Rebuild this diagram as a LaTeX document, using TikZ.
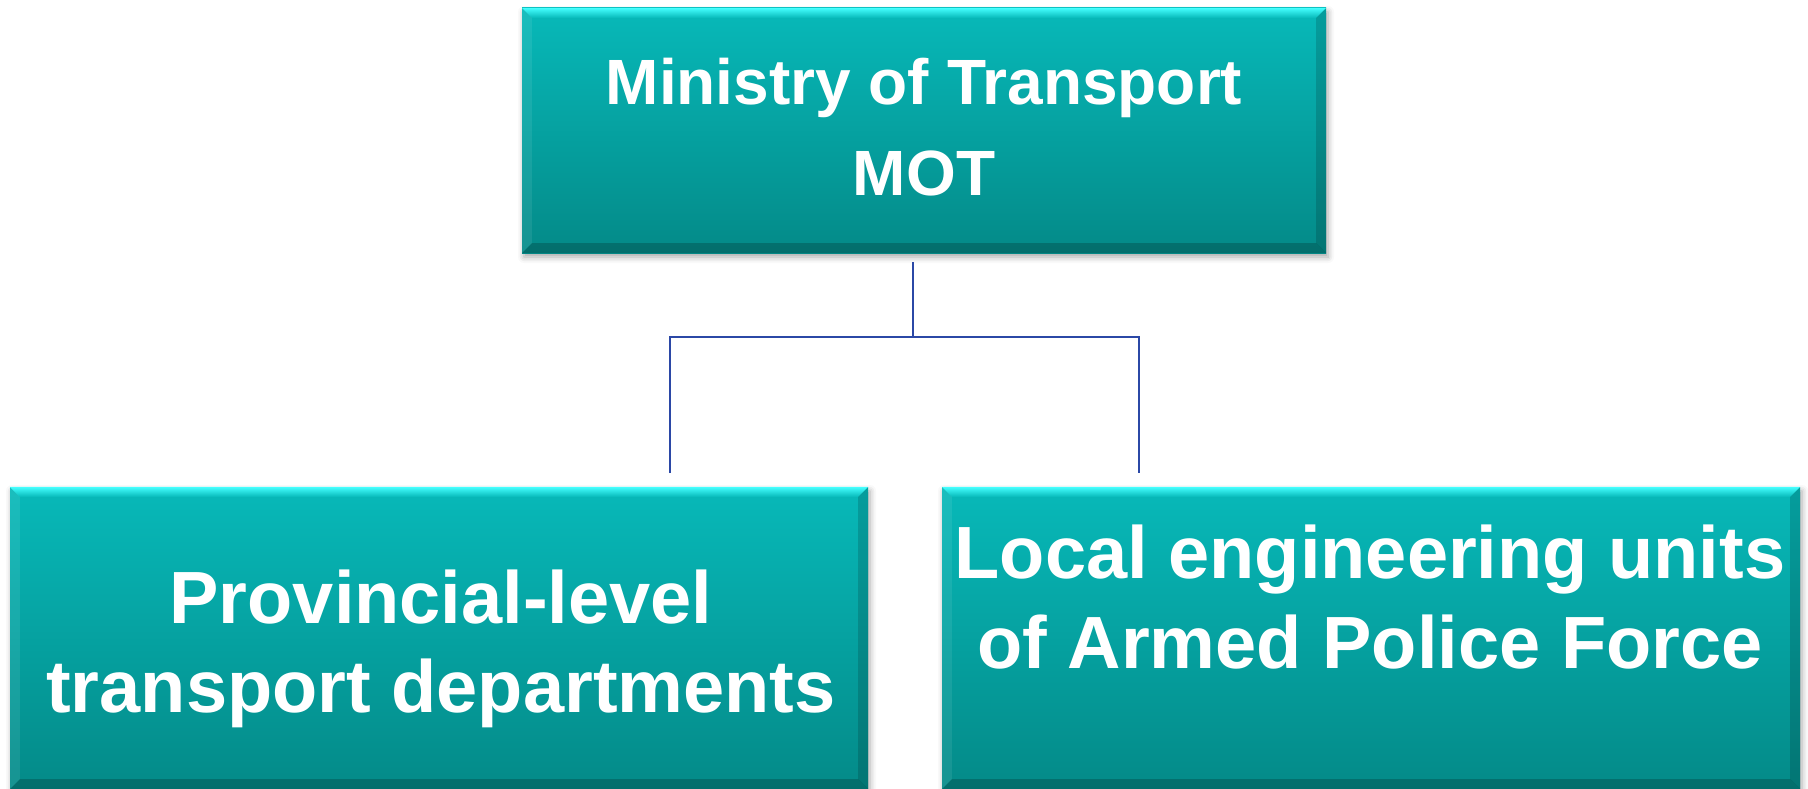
\documentclass[tikz,border=0pt]{standalone}
\usepackage{fontspec}
\setmainfont{Liberation Sans}
\usetikzlibrary{shadows.blur}
\definecolor{boxtop}{HTML}{07B9B9}
\definecolor{boxbot}{HTML}{048A88}
\definecolor{bevtop}{HTML}{45FFFF}
\definecolor{linkblue}{HTML}{2B48A6}
\tikzset{
  orgbox/.style={draw=none, top color=boxtop, bottom color=boxbot, inner sep=0pt,
    blur shadow={shadow xshift=2pt, shadow yshift=-4pt, shadow blur radius=6pt, shadow opacity=35}},
  boxlabel/.style={text=white, font=\bfseries, align=center, inner sep=0pt},
  link/.style={draw=linkblue, line width=2.2pt},
}
\newcommand\bevelbox[1]{%
  \path[top color=bevtop, bottom color=boxtop] (#1.north west) -- (#1.north east) -- ([shift={(-10,-10)}]#1.north east) -- ([shift={(10,-10)}]#1.north west) -- cycle;
  \fill[white, opacity=0.08] (#1.north west) -- ([shift={(10,-10)}]#1.north west) -- ([shift={(10,10)}]#1.south west) -- (#1.south west) -- cycle;
  \fill[black, opacity=0.15] (#1.north east) -- ([shift={(-10,-10)}]#1.north east) -- ([shift={(-10,10)}]#1.south east) -- (#1.south east) -- cycle;
  \fill[black, opacity=0.2] (#1.south west) -- ([shift={(10,10)}]#1.south west) -- ([shift={(-10,10)}]#1.south east) -- (#1.south east) -- cycle;
}
\begin{document}
\begin{tikzpicture}[x=1pt, y=1pt]
\useasboundingbox (0,0) rectangle (1808,-789);
% boxes
\node[orgbox, minimum width=804pt, minimum height=245pt] (mot) at (924,-130.5) {};
\node[orgbox, minimum width=858pt, minimum height=302pt] (prov) at (439,-638) {};
\node[orgbox, minimum width=858pt, minimum height=302pt] (apf) at (1371,-638) {};
\bevelbox{mot}
\bevelbox{prov}
\bevelbox{apf}
% labels (base anchor = baseline of the last line)
\node[boxlabel, font=\bfseries\fontsize{64}{92}\selectfont, anchor=base] (motlabel) at (924,-196) {Ministry of Transport\\MOT};
\node[boxlabel, font=\bfseries\fontsize{74}{89}\selectfont, anchor=base] (provlabel) at (441,-712) {Provincial-level\\transport departments};
\node[boxlabel, font=\bfseries\fontsize{74}{90}\selectfont, anchor=base] (apflabel) at (1370,-668) {Local engineering units\\of Armed Police Force};
% connectors
\coordinate (jt) at (913,-262);
\coordinate (jm) at (913,-337);
\coordinate (jl) at (670,-337);
\coordinate (jr) at (1139,-337);
\coordinate (el) at (670,-473);
\coordinate (er) at (1139,-473);
\draw[link] (jt) -- (jm);
\draw[link] (el) -- (jl) -- (jr) -- (er);
\end{tikzpicture}
\end{document}
